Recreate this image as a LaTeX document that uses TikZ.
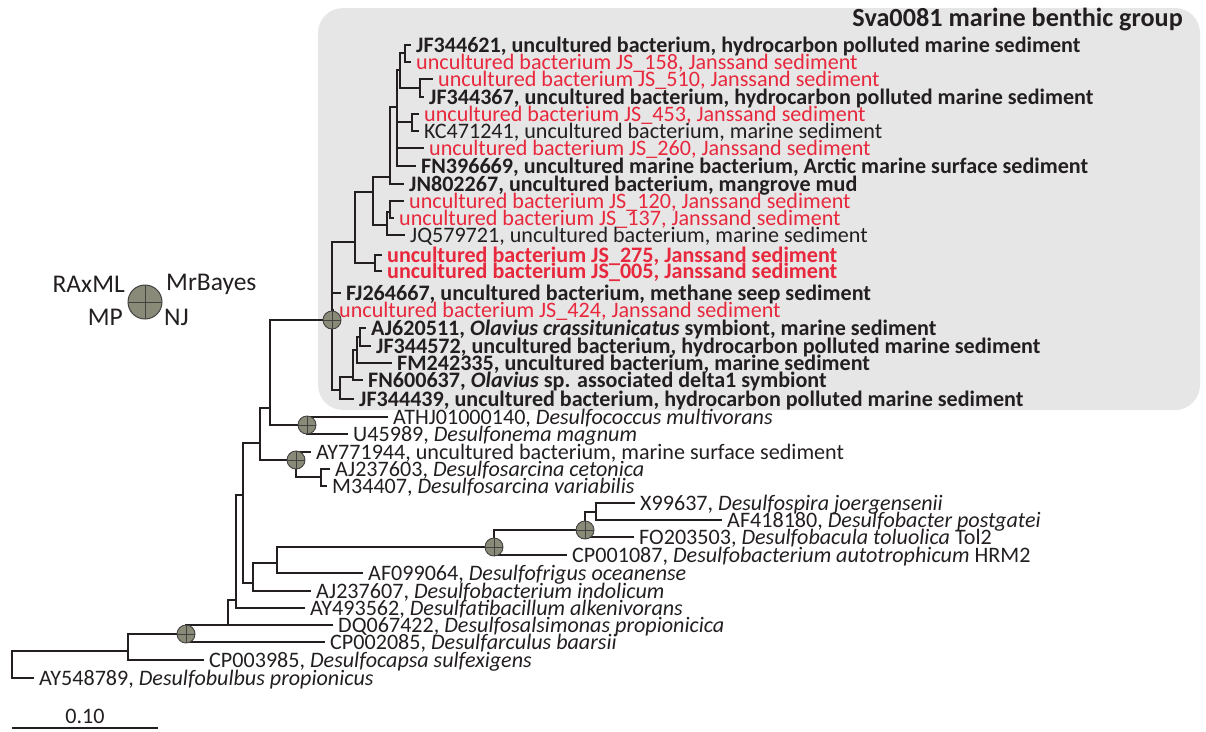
\documentclass[tikz,border=0pt]{standalone}
\usepackage{fontspec}
\setmainfont{Carlito}
\begin{document}
\begin{tikzpicture}[x=1pt,y=-1pt]
\definecolor{ink}{HTML}{231F20}
\definecolor{jsred}{HTML}{E8283C}
\definecolor{boxgray}{HTML}{E6E6E6}
\definecolor{supfill}{HTML}{8A8A78}
\tikzset{
  br/.style={draw=ink, line width=2.6pt, line cap=rect, line join=miter},
  leaf/.style={anchor=west, inner ysep=0pt, inner xsep=6pt, text height=14.2pt, text depth=0pt,
               font=\fontsize{22.1}{22.1}\selectfont, text=ink},
  leafb/.style={leaf, font=\fontsize{22.1}{22.1}\selectfont\bfseries},
  leafr/.style={leaf, text=jsred},
  leafrb/.style={leafb, text=jsred},
  supp/.style={circle, draw=ink!85, fill=supfill, line width=0.9pt, minimum size=18pt, inner sep=0pt,
    path picture={\draw[ink!85, line width=0.9pt]
      (path picture bounding box.north) -- (path picture bounding box.south)
      (path picture bounding box.west) -- (path picture bounding box.east);}},
  legtxt/.style={inner sep=0pt, font=\fontsize{25.5}{25.5}\selectfont, text=ink},
}
\useasboundingbox (0,0) rectangle (1206,731);

% shaded clade box
\fill[boxgray, rounded corners=25pt] (318,8) rectangle (1200,410);
\node[anchor=east, inner sep=0pt, font=\fontsize{26.2}{26.2}\selectfont\bfseries, text=ink] (title) at (1183,20) {Sva0081 marine benthic group};

% internal nodes (x = node depth, y = where the parent branch enters)
\coordinate (root) at (12,664);
\coordinate (A) at (128,651);
\coordinate (B) at (186,634);
\coordinate (C) at (228,625);
\coordinate (D) at (236,600);
\coordinate (E) at (243,495);
\coordinate (F) at (260,443);
\coordinate (L) at (270,408);
\coordinate (M) at (307,425);
\coordinate (N) at (296,460);
\coordinate (O) at (321,477);
\coordinate (G) at (253,583);
\coordinate (H) at (277,563);
\coordinate (I) at (494,547);
\coordinate (J) at (585,530);
\coordinate (K) at (596,512);
\coordinate (P) at (332,320);
\coordinate (R) at (355,242);
\coordinate (S) at (373,192);
\coordinate (T) at (375,263);
\coordinate (U) at (390,177);
\coordinate (V) at (387,225);
\coordinate (W) at (390,212);
\coordinate (X) at (397,107);
\coordinate (AA) at (400,70);
\coordinate (AB) at (405,53);
\coordinate (Y) at (420,88);
\coordinate (Z) at (412,122);
\coordinate (BA) at (340,390);
\coordinate (BB) at (353,377);
\coordinate (BD) at (357,350);
\coordinate (BE) at (360,337);

% leaf labels
\node[leafb] (l1) at (410,45) {JF344621, uncultured bacterium, hydrocarbon polluted marine sediment};
\node[leafr] (l2) at (410,62) {uncultured bacterium JS\_158, Janssand sediment};
\node[leafr] (l3) at (432,79) {uncultured bacterium JS\_510, Janssand sediment};
\node[leafb] (l4) at (423,97) {JF344367, uncultured bacterium, hydrocarbon polluted marine sediment};
\node[leafr] (l5) at (418,114) {uncultured bacterium JS\_453, Janssand sediment};
\node[leaf] (l6) at (418,131) {KC471241, uncultured bacterium, marine sediment};
\node[leafr] (l7) at (423,148) {uncultured bacterium JS\_260, Janssand sediment};
\node[leafb] (l8) at (415,166) {FN396669, uncultured marine bacterium, Arctic marine surface sediment};
\node[leafb] (l9) at (403,184) {JN802267, uncultured bacterium, mangrove mud};
\node[leafr] (l10) at (403,201) {uncultured bacterium JS\_120, Janssand sediment};
\node[leafr] (l11) at (393,218) {uncultured bacterium JS\_137, Janssand sediment};
\node[leaf] (l12) at (404,235) {JQ579721, uncultured bacterium, marine sediment};
\node[leafrb] (l13) at (381,255) {uncultured bacterium JS\_275, Janssand sediment};
\node[leafrb] (l14) at (381,271) {uncultured bacterium JS\_005, Janssand sediment};
\node[leafb] (l15) at (340,293) {FJ264667, uncultured bacterium, methane seep sediment};
\node[leafr] (l16) at (333,310) {uncultured bacterium JS\_424, Janssand sediment};
\node[leafb] (l17) at (365,328) {AJ620511, \textit{Olavius crassitunicatus} symbiont, marine sediment};
\node[leafb] (l18) at (370,346) {JF344572, uncultured bacterium, hydrocarbon polluted marine sediment};
\node[leafb] (l19) at (391,363) {FM242335, uncultured bacterium, marine sediment};
\node[leafb] (l20) at (362,380) {FN600637, \textit{Olavius} sp. associated delta1 symbiont};
\node[leafb] (l21) at (353,399) {JF344439, uncultured bacterium, hydrocarbon polluted marine sediment};
\node[leaf] (l22) at (387,417) {ATHJ01000140, \textit{Desulfococcus multivorans}};
\node[leaf] (l23) at (347,434) {U45989, \textit{Desulfonema magnum}};
\node[leaf] (l24) at (310,452) {AY771944, uncultured bacterium, marine surface sediment};
\node[leaf] (l25) at (329,469) {AJ237603, \textit{Desulfosarcina cetonica}};
\node[leaf] (l26) at (326,486) {M34407, \textit{Desulfosarcina variabilis}};
\node[leaf] (l27) at (634,503) {X99637, \textit{Desulfospira joergensenii}};
\node[leaf] (l28) at (721,520) {AF418180, \textit{Desulfobacter postgatei}};
\node[leaf] (l29) at (633,537) {FO203503, \textit{Desulfobacula toluolica} Tol2};
\node[leaf] (l30) at (566,555) {CP001087, \textit{Desulfobacterium autotrophicum} HRM2};
\node[leaf] (l31) at (362,573) {AF099064, \textit{Desulfofrigus oceanense}};
\node[leaf] (l32) at (310,591) {AJ237607, \textit{Desulfobacterium indolicum}};
\node[leaf] (l33) at (304,608) {AY493562, \textit{Desulfatibacillum alkenivorans}};
\node[leaf] (l34) at (332,625) {DQ067422, \textit{Desulfosalsimonas propionicica}};
\node[leaf] (l35) at (324,642) {CP002085, \textit{Desulfarculus baarsii}};
\node[leaf] (l36) at (203,660) {CP003985, \textit{Desulfocapsa sulfexigens}};
\node[leaf] (l37) at (33,678) {AY548789, \textit{Desulfobulbus propionicus}};

% branches: parent |- child
\draw[br] (root) |- (A);   \draw[br] (root) |- (l37.west);
\draw[br] (A) |- (B);      \draw[br] (A) |- (l36.west);
\draw[br] (B) |- (C);      \draw[br] (B) |- (l35.west);
\draw[br] (C) |- (D);      \draw[br] (C) |- (l34.west);
\draw[br] (D) |- (E);      \draw[br] (D) |- (l33.west);
\draw[br] (E) |- (F);      \draw[br] (E) |- (G);
\draw[br] (F) |- (L);      \draw[br] (F) |- (N);
\draw[br] (L) |- (P);      \draw[br] (L) |- (M);
\draw[br] (M) |- (l22.west); \draw[br] (M) |- (l23.west);
\draw[br] (N) |- (l24.west); \draw[br] (N) |- (O);
\draw[br] (O) |- (l25.west); \draw[br] (O) |- (l26.west);
\draw[br] (G) |- (H);      \draw[br] (G) |- (l32.west);
\draw[br] (H) |- (I);      \draw[br] (H) |- (l31.west);
\draw[br] (I) |- (J);      \draw[br] (I) |- (l30.west);
\draw[br] (J) |- (K);      \draw[br] (J) |- (l29.west);
\draw[br] (K) |- (l27.west); \draw[br] (K) |- (l28.west);
\draw[br] (P) |- (R);      \draw[br] (P) |- (l15.west);
\draw[br] (P) |- (l16.west); \draw[br] (P) |- (BA);
\draw[br] (R) |- (S);      \draw[br] (R) |- (T);
\draw[br] (T) |- (l13.west); \draw[br] (T) |- (l14.west);
\draw[br] (S) |- (U);      \draw[br] (S) |- (V);
\draw[br] (V) |- (W);      \draw[br] (V) |- (l12.west);
\draw[br] (W) |- (l10.west); \draw[br] (W) |- (l11.west);
\draw[br] (U) |- (X);      \draw[br] (U) |- (l9.west);
\draw[br] (X) |- (AA);     \draw[br] (X) |- (Z);
\draw[br] (X) |- (l7.west); \draw[br] (X) |- (l8.west);
\draw[br] (AA) |- (AB);    \draw[br] (AA) |- (Y);
\draw[br] (AB) |- (l1.west); \draw[br] (AB) |- (l2.west);
\draw[br] (Y) |- (l3.west); \draw[br] (Y) |- (l4.west);
\draw[br] (Z) |- (l5.west); \draw[br] (Z) |- (l6.west);
\draw[br] (BA) |- (BB);    \draw[br] (BA) |- (l21.west);
\draw[br] (BB) |- (BD);    \draw[br] (BB) |- (l20.west);
\draw[br] (BD) |- (BE);    \draw[br] (BD) |- (l19.west);
\draw[br] (BE) |- (l17.west); \draw[br] (BE) |- (l18.west);

% support markers
\foreach \n in {P,M,N,I,J,B} \node[supp] at (\n) {};

% legend
\node[supp, minimum size=34pt, line width=1pt] (leg) at (145,302) {};
\node[legtxt, anchor=east] (lraxml) at (125,284) {RAxML};
\node[legtxt, anchor=west] (lmrb) at (166,284) {MrBayes};
\node[legtxt, anchor=east] (lmp) at (123,317) {MP};
\node[legtxt, anchor=west] (lnj) at (164,317) {NJ};

% scale bar
\coordinate (sb0) at (12,728);
\coordinate (sb1) at (158,728);
\draw[br, line cap=butt] (sb0) -- (sb1);
\node[inner sep=0pt, font=\fontsize{22.1}{22.1}\selectfont, text=ink] (sbl) at (85,716) {0.10};
\end{tikzpicture}
\end{document}
